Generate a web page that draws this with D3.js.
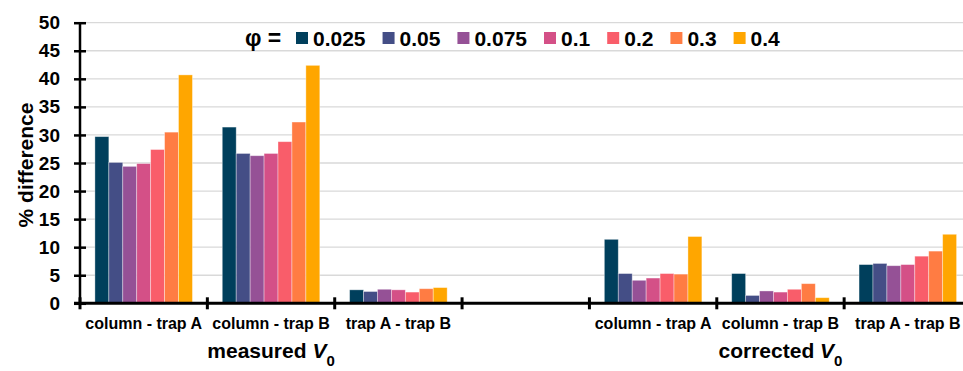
<!DOCTYPE html>
<html><head><meta charset="utf-8">
<script src="https://cdn.jsdelivr.net/npm/d3@7/dist/d3.min.js"></script>
<style>
html,body{margin:0;padding:0;background:#fff;overflow:hidden}
text{font-family:"Liberation Sans",Arial,sans-serif;font-weight:bold;fill:#000}
</style></head>
<body><svg id="chart" width="963" height="371"></svg>
<script>
const categories = ["column - trap A","column - trap B","trap A - trap B","","column - trap A","column - trap B","trap A - trap B"];
const groupLabels = ["measured","corrected"];
const seriesNames = ["0.025","0.05","0.075","0.1","0.2","0.3","0.4"];
const colors = ["#003f5c","#444e86","#955196","#d45087","#f95d6a","#ff7c43","#ffa600"];
const s0025 = [29.7, 31.4, 2.4, null, 11.4, 5.3, 6.9];
const s005  = [25.1, 26.7, 2.1, null, 5.3, 1.4, 7.1];
const s0075 = [24.4, 26.3, 2.5, null, 4.1, 2.2, 6.7];
const s01   = [24.9, 26.7, 2.4, null, 4.5, 2.0, 6.9];
const s02   = [27.4, 28.8, 2.0, null, 5.3, 2.5, 8.4];
const s03   = [30.5, 32.3, 2.6, null, 5.2, 3.5, 9.3];
const s04   = [40.7, 42.4, 2.8, null, 11.9, 1.0, 12.3];
const yTicks = [0,5,10,15,20,25,30,35,40,45,50];

(function(){
const series = [s0025,s005,s0075,s01,s02,s03,s04];
const svg = d3.select("#chart");
const pl = 80, pr = 971.5, pt = 22.7, pb = 303.3;

const x0 = d3.scaleBand().domain(d3.range(categories.length)).range([pl,pr]).paddingInner(0).paddingOuter(0);
const x1 = d3.scaleBand().domain(seriesNames).range([0,x0.bandwidth()]).paddingInner(0).paddingOuter(1.07);
const y = d3.scaleLinear().domain([0,50]).range([pb,pt]);

// gridlines
svg.append("g").selectAll("line").data(yTicks.filter(d=>d>0)).join("line")
  .attr("x1",pl).attr("x2",963).attr("y1",d=>y(d)).attr("y2",d=>y(d))
  .attr("stroke","#d9d9d9").attr("stroke-width",1.3);

// bars
const rows = [];
series.forEach((s,si)=>s.forEach((v,ci)=>{ if(v!=null) rows.push({ci,si,v}); }));
svg.append("g").selectAll("rect").data(rows).join("rect")
  .attr("x",d=>x0(d.ci)+x1(seriesNames[d.si]))
  .attr("width",x1.bandwidth())
  .attr("y",d=>y(d.v))
  .attr("height",d=>y(0)-y(d.v))
  .attr("fill",d=>colors[d.si])
  .attr("stroke","#ffffff").attr("stroke-opacity",0.45).attr("stroke-width",0.8);

// y axis
const yAxis = svg.append("g").attr("transform",`translate(${pl},0)`)
  .call(d3.axisLeft(y).tickValues(yTicks).tickSize(6).tickPadding(14));
yAxis.select(".domain").attr("stroke","#000").attr("stroke-width",2.5).attr("d",`M0,${pt}V${pb}`);
yAxis.selectAll(".tick line").attr("x1",6).attr("x2",-6).attr("stroke","#000").attr("stroke-width",2.5);
yAxis.selectAll(".tick text").style("font-size","19px").style("font-family","Liberation Sans, Arial, sans-serif").style("font-weight","bold").attr("fill","#000");

// x axis
const xg = svg.append("g");
xg.append("line").attr("x1",pl-6).attr("x2",963).attr("y1",pb).attr("y2",pb)
  .attr("stroke","#000").attr("stroke-width",3);
const bounds = d3.range(categories.length+1).map(i=> i<categories.length ? x0(i) : x0(i-1)+x0.bandwidth());
xg.selectAll("line.tk").data(bounds).join("line").attr("class","tk")
  .attr("x1",d=>d).attr("x2",d=>d).attr("y1",pb-6).attr("y2",pb+6)
  .attr("stroke","#000").attr("stroke-width",3);
xg.selectAll("text.cat").data(categories).join("text").attr("class","cat")
  .attr("x",(d,i)=>x0(i)+x0.bandwidth()/2).attr("y",329)
  .attr("text-anchor","middle").style("font-size","16px").text(d=>d);

// group labels
[[0,2],[4,6]].forEach((r,gi)=>{
  const cx = (x0(r[0]) + x0(r[1])+x0.bandwidth())/2;
  const t = svg.append("text").attr("x",cx).attr("y",358).attr("text-anchor","middle").style("font-size","21px");
  t.append("tspan").text(groupLabels[gi]+" ");
  t.append("tspan").style("font-style","italic").text("V");
  t.append("tspan").attr("dy",8).style("font-size","15px").text("0");
});

// y label
svg.append("text").attr("transform",`translate(33,165) rotate(-90)`).attr("text-anchor","middle")
  .style("font-size","21px").text("% difference");

// legend
const lg = svg.append("g");
lg.append("text").attr("x",245).attr("y",46).style("font-size","23px").text("φ =");
let lx = 296;
seriesNames.forEach((n,i)=>{
  lg.append("rect").attr("x",lx).attr("y",32).attr("width",12).attr("height",12).attr("fill",colors[i]);
  const t = lg.append("text").attr("x",lx+17).attr("y",46).style("font-size","21px").text(n);
  lx = lx + 17 + t.node().getComputedTextLength() + 17;
});
})();
</script></body></html>
